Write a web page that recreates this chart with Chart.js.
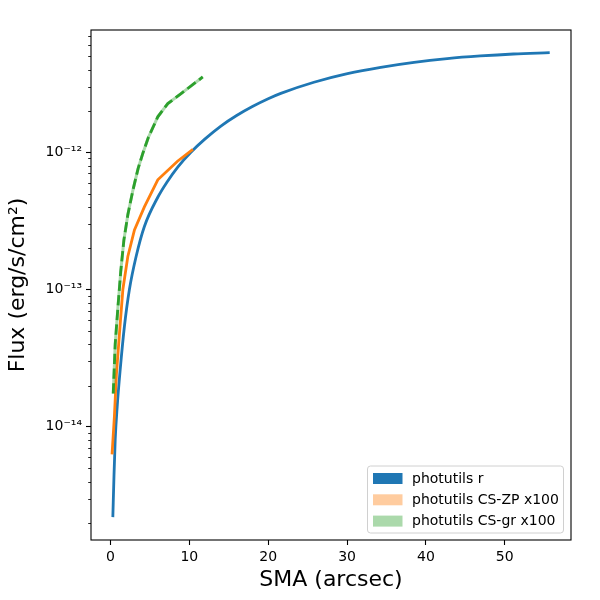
<!DOCTYPE html>
<html>
<head>
<meta charset="utf-8">
<script src="https://cdn.jsdelivr.net/npm/chart.js@4/dist/chart.umd.min.js"></script>
<style>
  body { margin: 0; background: #fff; }
</style>
</head>
<body>
<canvas id="myChart" width="600" height="600"></canvas>
<script>
"use strict";

// photutils r
const blueSma = [0.3, 0.45, 0.6, 0.85, 1.23, 1.77, 2.4, 3.25, 4.3, 6.0, 7.2, 8.53, 10.2, 12.0, 14.0, 16.0, 18.0, 20.0, 21.6, 25.8, 30.05, 34.27, 38.5, 42.7, 46.9, 51.1, 55.7];
const blueFlux = [2.2e-15, 4.5e-15, 8.1e-15, 1.4e-14, 2.6e-14, 5.4e-14, 1.0e-13, 1.74e-13, 2.88e-13, 4.7e-13, 6.1e-13, 7.8e-13, 1.0e-12, 1.25e-12, 1.55e-12, 1.85e-12, 2.15e-12, 2.45e-12, 2.68e-12, 3.23e-12, 3.73e-12, 4.15e-12, 4.51e-12, 4.8e-12, 5.02e-12, 5.19e-12, 5.31e-12];

// photutils CS-ZP x100
const orangeSma = [0.2, 0.5, 0.75, 1.14, 1.57, 2.2, 3.04, 4.3, 6.0, 8.5, 10.45];
const orangeFlux = [6.3e-15, 1.2e-14, 2.4e-14, 4.8e-14, 1.0e-13, 1.74e-13, 2.72e-13, 4.0e-13, 6.3e-13, 8.6e-13, 1.05e-12];

// photutils CS-gr x100
const greenSma = [0.35, 0.6, 0.95, 1.3, 1.7, 2.2, 2.85, 3.5, 4.1, 4.8, 6.0, 7.27, 8.95, 11.7];
const greenFlux = [1.75e-14, 4.0e-14, 7.5e-14, 1.35e-13, 2.29e-13, 3.5e-13, 5.3e-13, 7.6e-13, 9.8e-13, 1.28e-12, 1.81e-12, 2.26e-12, 2.67e-12, 3.53e-12];

const legendLabels = ["photutils r", "photutils CS-ZP x100", "photutils CS-gr x100"];
const xTicks = [0, 10, 20, 30, 40, 50];
const yTicks = [1e-14, 1e-13, 1e-12];
const yTickLabels = ["10\u207B\u00B9\u2074", "10\u207B\u00B9\u00B3", "10\u207B\u00B9\u00B2"];

const blue = "#1f77b4";
const orange = "#ff7f0e";
const green = "#2ca02c";
const font = "'DejaVu Sans', sans-serif";

const toPoints = (xs, ys) => xs.map((x, i) => ({ x, y: ys[i] }));

// frame, minor log ticks and the legend box, drawn like matplotlib
const mplPlugin = {
  id: "mpl",
  afterDraw: (chart) => {
    const { ctx, chartArea: a } = chart;
    const yScale = chart.scales.y;
    ctx.save();
    ctx.strokeStyle = "#000";
    ctx.lineWidth = 0.85;
    for (let d = -16; d <= -11; d++) {
      for (let m = 2; m <= 9; m++) {
        const v = m * Math.pow(10, d);
        if (v < yScale.min || v > yScale.max) continue;
        const py = Math.round(yScale.getPixelForValue(v)) + 0.5;
        ctx.beginPath();
        ctx.moveTo(a.left, py);
        ctx.lineTo(a.left - 2.8, py);
        ctx.stroke();
      }
    }
    ctx.lineWidth = 1.1;
    ctx.strokeRect(a.left, a.top, a.right - a.left, a.bottom - a.top);

    const items = chart.data.datasets
      .filter((ds) => ds.legendPatch)
      .sort((p, q) => p.legendRank - q.legendRank);
    const bx = 367.5, by = 466, bw = 196, bh = 67;
    ctx.fillStyle = "rgba(255,255,255,0.8)";
    ctx.strokeStyle = "#d0d0d0";
    ctx.lineWidth = 1;
    ctx.beginPath();
    ctx.roundRect(bx, by, bw, bh, 3);
    ctx.fill();
    ctx.stroke();
    ctx.font = "14px " + font;
    ctx.textBaseline = "middle";
    items.forEach((ds, i) => {
      const cy = by + 12.5 + i * 21.3;
      ctx.fillStyle = ds.legendPatch;
      ctx.fillRect(bx + 5.5, cy - 5.5, 29.5, 11);
      ctx.fillStyle = "#000";
      ctx.fillText(ds.label, bx + 44.5, cy + 0.5);
    });
    ctx.restore();
  },
};

// first dataset is drawn on top
const datasets = [
  {
    label: legendLabels[2],
    data: toPoints(greenSma, greenFlux),
    borderColor: green,
    borderWidth: 2.8,
    borderDash: [10.3, 4.4],
    legendPatch: "#abd9ab",
    legendRank: 2,
  },
  {
    label: "CS-gr band",
    data: toPoints(greenSma, greenFlux),
    borderColor: "rgba(44,160,44,0.4)",
    borderWidth: 3,
  },
  {
    label: legendLabels[1],
    data: toPoints(orangeSma, orangeFlux),
    borderColor: orange,
    borderWidth: 2.8,
    legendPatch: "#ffcc9f",
    legendRank: 1,
  },
  {
    label: legendLabels[0],
    data: toPoints(blueSma, blueFlux),
    borderColor: blue,
    borderWidth: 2.8,
    cubicInterpolationMode: "monotone",
    legendPatch: blue,
    legendRank: 0,
  },
];

const axisTicks = {
  drawOnChartArea: false,
  tickLength: 5,
  tickColor: "#000",
  tickWidth: 1.1,
};

const config = {
  type: "line",
  data: { datasets },
  options: {
    responsive: false,
    animation: false,
    elements: { point: { radius: 0 }, line: { tension: 0 } },
    layout: { padding: { top: 30, right: 29, left: 0, bottom: 0 } },
    scales: {
      x: {
        type: "linear",
        min: -2.47,
        max: 58.4,
        afterBuildTicks: (scale) => {
          scale.ticks = xTicks.map((v) => ({ value: v }));
        },
        afterFit: (scale) => {
          scale.height = 60;
        },
        grid: axisTicks,
        border: { display: false },
        ticks: {
          color: "#000",
          padding: 4,
          maxRotation: 0,
          autoSkip: false,
          font: { family: font, size: 14 },
        },
        title: {
          display: true,
          text: "SMA (arcsec)",
          color: "#000",
          font: { family: font, size: 22 },
          padding: { top: 0, bottom: 7 },
        },
      },
      y: {
        type: "logarithmic",
        min: 1.5e-15,
        max: 7.76e-12,
        afterBuildTicks: (scale) => {
          scale.ticks = yTicks.map((v) => ({ value: v }));
        },
        afterFit: (scale) => {
          scale.width = 91;
        },
        grid: axisTicks,
        border: { display: false },
        ticks: {
          color: "#000",
          padding: 4,
          autoSkip: false,
          font: { family: font, size: 14 },
          callback: (v) => {
            const i = yTicks.findIndex((t) => Math.abs(t - v) / t < 1e-6);
            return i >= 0 ? yTickLabels[i] : "";
          },
        },
        title: {
          display: true,
          text: "Flux (erg/s/cm\u00B2)",
          color: "#000",
          font: { family: font, size: 22 },
          padding: { top: 5, bottom: 0 },
        },
      },
    },
    plugins: {
      legend: { display: false },
      tooltip: { enabled: false },
    },
  },
  plugins: [mplPlugin],
};

const myChart = new Chart(document.getElementById("myChart"), config);
</script>
</body>
</html>
